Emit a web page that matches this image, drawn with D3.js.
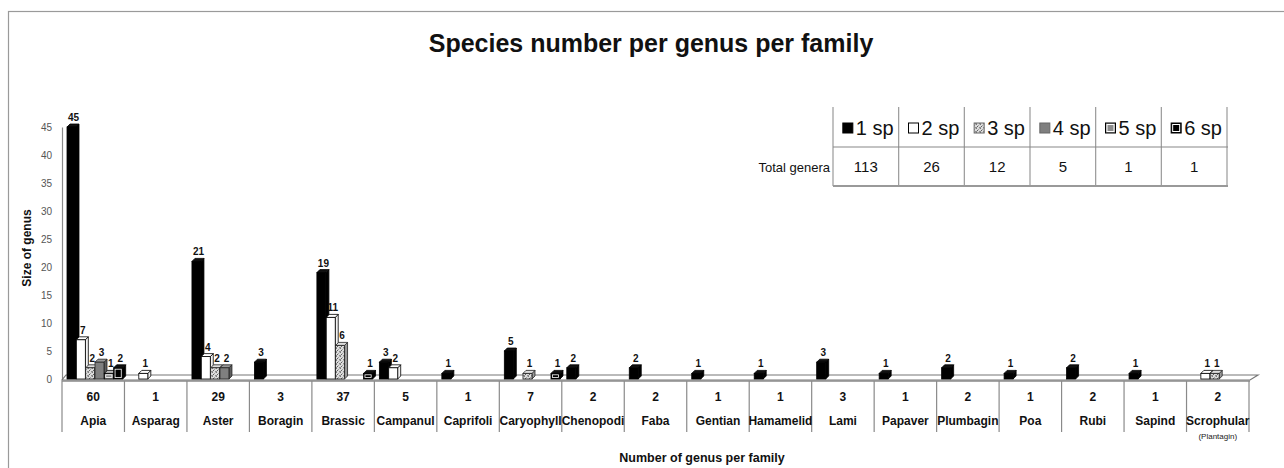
<!DOCTYPE html>
<html>
<head>
<meta charset="utf-8">
<script src="https://cdn.jsdelivr.net/npm/d3@7"></script>
<style>
  html, body { margin: 0; padding: 0; background: #fff; }
  svg { display: block; }
</style>
</head>
<body>
<svg id="chart" width="1284" height="468"></svg>
<script>
// Families (suffix "-aceae" dropped) and number of genera recorded in each
const families = ["Apia", "Asparag", "Aster", "Boragin", "Brassic", "Campanul", "Caprifoli",
  "Caryophyll", "Chenopodi", "Faba", "Gentian", "Hamamelid", "Lami", "Papaver",
  "Plumbagin", "Poa", "Rubi", "Sapind", "Scrophular"];
const generaPerFamily = [60, 1, 29, 3, 37, 5, 1, 7, 2, 2, 1, 1, 3, 1, 2, 1, 2, 1, 2];

// Number of genera holding 1, 2, ... 6 species, per family (0 = none)
const sp1 = [45, 0, 21, 3, 19, 3, 1, 5, 2, 2, 1, 1, 3, 1, 2, 1, 2, 1, 0];
const sp2 = [7, 1, 4, 0, 11, 2, 0, 0, 0, 0, 0, 0, 0, 0, 0, 0, 0, 0, 1];
const sp3 = [2, 0, 2, 0, 6, 0, 0, 1, 0, 0, 0, 0, 0, 0, 0, 0, 0, 0, 1];
const sp4 = [3, 0, 2, 0, 0, 0, 0, 0, 0, 0, 0, 0, 0, 0, 0, 0, 0, 0, 0];
const sp5 = [1, 0, 0, 0, 0, 0, 0, 0, 0, 0, 0, 0, 0, 0, 0, 0, 0, 0, 0];
const sp6 = [2, 0, 0, 0, 1, 0, 0, 1, 0, 0, 0, 0, 0, 0, 0, 0, 0, 0, 0];

const seriesNames = ["1 sp", "2 sp", "3 sp", "4 sp", "5 sp", "6 sp"];
const totalGenera = ["113", "26", "12", "5", "1", "1"];
const yTicks = [0, 5, 10, 15, 20, 25, 30, 35, 40, 45];

const seriesValues = [sp1, sp2, sp3, sp4, sp5, sp6];

const svg = d3.select("#chart");
const FONT = "'Liberation Sans', Arial, sans-serif";
const NARROW = "'Liberation Sans Narrow', 'Liberation Sans', Arial, sans-serif";

// ---- fills ----
const defs = svg.append("defs");
const speck = defs.append("pattern")
  .attr("id", "speckle").attr("patternUnits", "userSpaceOnUse")
  .attr("width", 4).attr("height", 4);
speck.append("rect").attr("width", 4).attr("height", 4).attr("fill", "#dcdcdc");
[[0,0,"#7a7a7a"],[2,1,"#a0a0a0"],[1,2,"#5e5e5e"],[3,3,"#909090"],[3,0,"#b8b8b8"],[0,3,"#8a8a8a"]]
  .forEach(([x, y, c]) => speck.append("rect").attr("x", x).attr("y", y)
    .attr("width", 1).attr("height", 1).attr("fill", c));

const styles = [
  { front: "#000", top: "#111", side: "#000", stroke: "#000", inner: null },
  { front: "#fff", top: "#fff", side: "#f2f2f2", stroke: "#000", inner: null },
  { front: "url(#speckle)", top: "#ddd", side: "#999", stroke: "#222", inner: null },
  { front: "#7f7f7f", top: "#999", side: "#5e5e5e", stroke: "#222", inner: null },
  { front: "#8c8c8c", top: "#bbb", side: "#666", stroke: "#000", inner: "#fff" },
  { front: "#000", top: "#111", side: "#000", stroke: "#000", inner: "#fff" }
];

// ---- frame ----
svg.append("rect").attr("x", 8.5).attr("y", 11.5).attr("width", 1290).attr("height", 480)
  .attr("fill", "none").attr("stroke", "#9a9a9a").attr("stroke-width", 1.2);

// ---- title ----
svg.append("text").attr("x", 651).attr("y", 52).attr("text-anchor", "middle")
  .attr("font-family", FONT).attr("font-weight", "bold").attr("font-size", 25)
  .attr("fill", "#111").text("Species number per genus per family");

// ---- scales ----
const x = d3.scaleBand().domain(families).range([62, 1249]).paddingInner(0).paddingOuter(0);
const xs = d3.scaleBand().domain(d3.range(6)).range([5, 61]).padding(0);
const y = d3.scaleLinear().domain([0, 45]).range([379, 127]);
const DX = 3, DY = 3, BW = 9;

// ---- y axis ----
const yAxis = svg.append("g").attr("transform", "translate(62,0)")
  .call(d3.axisLeft(y).tickValues(yTicks).tickSize(0).tickPadding(10));
yAxis.select(".domain").attr("stroke", "#8a8a8a").attr("stroke-width", 1.2);
yAxis.selectAll("text").attr("font-family", FONT).attr("font-size", 10).attr("fill", "#555");

svg.append("text")
  .attr("transform", "translate(31,248) rotate(-90)")
  .attr("text-anchor", "middle").attr("font-family", FONT).attr("font-weight", "bold")
  .attr("font-size", 12).attr("fill", "#111").text("Size of genus");

// ---- floor ----
const y0 = y(0);
svg.append("path")
  .attr("d", `M62,${y0 + 1}L1250,${y0 + 1}L1258,${y0 - 4}L66,${y0 - 4}Z`)
  .attr("fill", "#fff").attr("stroke", "#777").attr("stroke-width", 1.2);

// ---- category table under the floor ----
const table = svg.append("g");
table.append("line").attr("x1", 62).attr("x2", 1250).attr("y1", y0 + 2).attr("y2", y0 + 2)
  .attr("stroke", "#888").attr("stroke-width", 1.6);
const bounds = families.map(f => x(f)).concat([x.range()[1]]);
table.selectAll("line.sep").data(bounds).join("line").attr("class", "sep")
  .attr("x1", d => d).attr("x2", d => d).attr("y1", y0 + 2).attr("y2", 432)
  .attr("stroke", "#8a8a8a").attr("stroke-width", 1.2);
table.selectAll("text.cnt").data(families).join("text").attr("class", "cnt")
  .attr("x", d => x(d) + x.bandwidth() / 2).attr("y", 401)
  .attr("text-anchor", "middle").attr("font-family", NARROW).attr("font-weight", "bold")
  .attr("font-size", 12).attr("fill", "#111")
  .text((d, i) => generaPerFamily[i]);
table.selectAll("text.fam").data(families).join("text").attr("class", "fam")
  .attr("x", d => x(d) + x.bandwidth() / 2).attr("y", 425)
  .attr("text-anchor", "middle").attr("font-family", NARROW).attr("font-weight", "bold")
  .attr("font-size", 12).attr("fill", "#111")
  .text(d => d);
svg.append("text").attr("x", x("Scrophular") + x.bandwidth() / 2).attr("y", 439)
  .attr("text-anchor", "middle").attr("font-family", FONT).attr("font-size", 8)
  .attr("fill", "#222").text("(Plantagin)");

svg.append("text").attr("x", 702).attr("y", 462).attr("text-anchor", "middle")
  .attr("font-family", FONT).attr("font-weight", "bold").attr("font-size", 12.5)
  .attr("fill", "#111").text("Number of genus per family");

// ---- 3D bars ----
const bars = [];
seriesValues.forEach((vals, s) => vals.forEach((v, i) => {
  if (v > 0) bars.push({ s, v, fam: families[i] });
}));

const gBars = svg.append("g");
bars.forEach(b => {
  const st = styles[b.s];
  const bx = x(b.fam) + xs(b.s);
  const yt = y(b.v), yb = y0;
  const g = gBars.append("g");
  g.append("path")
    .attr("d", `M${bx + BW},${yt}L${bx + BW + DX},${yt - DY}L${bx + BW + DX},${yb - DY}L${bx + BW},${yb}Z`)
    .attr("fill", st.side).attr("stroke", st.stroke).attr("stroke-width", 0.8);
  g.append("path")
    .attr("d", `M${bx},${yt}L${bx + DX},${yt - DY}L${bx + BW + DX},${yt - DY}L${bx + BW},${yt}Z`)
    .attr("fill", st.top).attr("stroke", st.stroke).attr("stroke-width", 0.8);
  g.append("rect").attr("x", bx).attr("y", yt).attr("width", BW).attr("height", yb - yt)
    .attr("fill", st.front).attr("stroke", st.stroke).attr("stroke-width", 0.8);
  if (st.inner && yb - yt > 3) {
    g.append("rect").attr("x", bx + 1.4).attr("y", yt + 1.4)
      .attr("width", BW - 2.8).attr("height", Math.max(0.5, yb - yt - 2.8))
      .attr("fill", "none").attr("stroke", st.inner).attr("stroke-width", 0.8);
  }
  gBars.append("text").attr("x", bx + BW / 2 + 2).attr("y", yt - 6)
    .attr("text-anchor", "middle").attr("font-family", NARROW).attr("font-weight", "bold")
    .attr("font-size", 10).attr("fill", "#111").text(b.v);
});

// ---- legend table ----
const lx = d3.scaleBand().domain(d3.range(6)).range([833, 1227]);
const leg = svg.append("g");
lx.domain().concat([6]).forEach(k => {
  const xx = k < 6 ? lx(k) : lx.range()[1];
  leg.append("line").attr("x1", xx).attr("x2", xx).attr("y1", 107).attr("y2", 186)
    .attr("stroke", "#999").attr("stroke-width", 1.2);
});
leg.append("line").attr("x1", 833).attr("x2", 1228).attr("y1", 147).attr("y2", 147)
  .attr("stroke", "#888").attr("stroke-width", 1.2);
leg.append("line").attr("x1", 833).attr("x2", 1228).attr("y1", 186).attr("y2", 186)
  .attr("stroke", "#999").attr("stroke-width", 2);

seriesNames.forEach((name, k) => {
  const st = styles[k];
  const cx = lx(k) + lx.bandwidth() / 2;
  const sx = cx - 23;
  leg.append("rect").attr("x", sx).attr("y", 123).attr("width", 10).attr("height", 10)
    .attr("fill", st.front).attr("stroke", k === 2 ? "#666" : (k === 3 ? "#666" : "#000"))
    .attr("stroke-width", 1);
  if (st.inner) {
    leg.append("rect").attr("x", sx + 1.5).attr("y", 124.5).attr("width", 7).attr("height", 7)
      .attr("fill", "none").attr("stroke", st.inner).attr("stroke-width", 1);
  }
  leg.append("text").attr("x", sx + 13).attr("y", 135)
    .attr("font-family", FONT).attr("font-size", 20).attr("fill", "#111").text(name);
  leg.append("text").attr("x", cx).attr("y", 172).attr("text-anchor", "middle")
    .attr("font-family", NARROW).attr("font-size", 15).attr("fill", "#111").text(totalGenera[k]);
});
svg.append("text").attr("x", 830).attr("y", 172).attr("text-anchor", "end")
  .attr("font-family", NARROW).attr("font-size", 13).attr("fill", "#111").text("Total genera");
</script>
</body>
</html>
